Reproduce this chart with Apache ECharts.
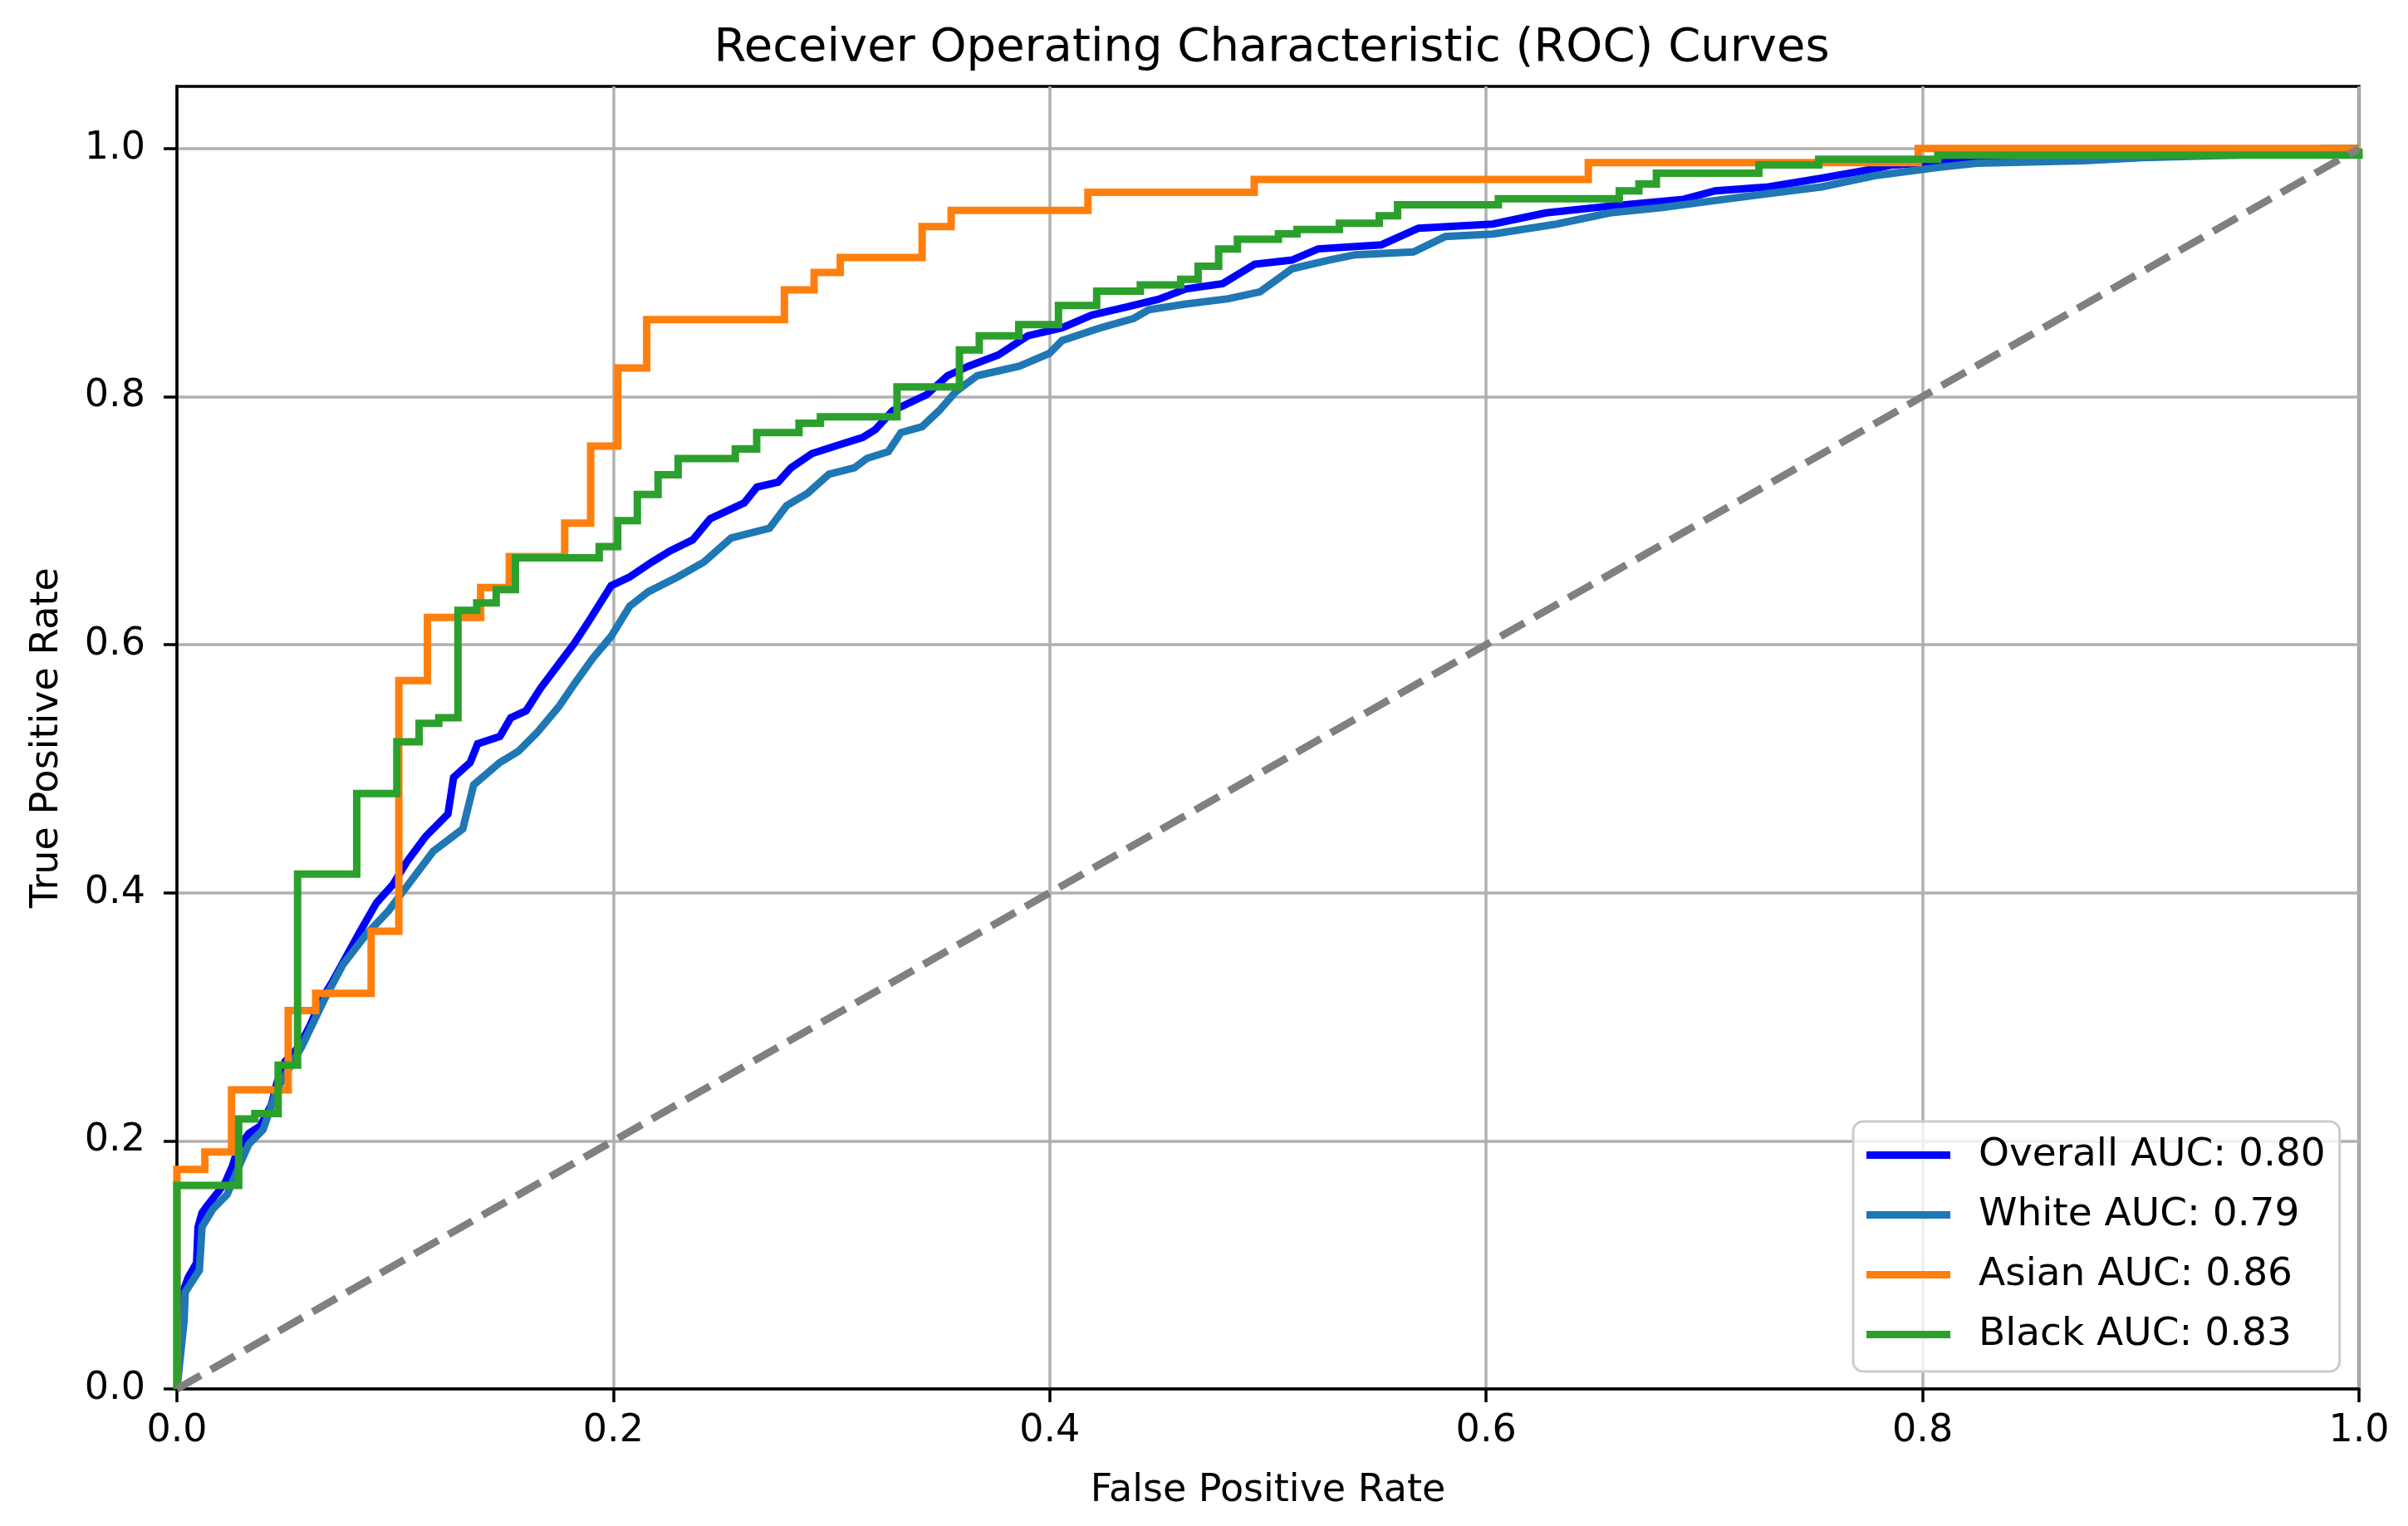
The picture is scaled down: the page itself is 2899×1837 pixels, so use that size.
<!DOCTYPE html>
<html><head><meta charset="utf-8">
<script src="https://cdn.jsdelivr.net/npm/echarts@6/dist/echarts.min.js"></script>
<style>html,body{margin:0;padding:0;background:#fff;}#c{width:2899px;height:1837px;}</style>
</head><body><div id="c"></div>
<script>
const chartTitle = 'Receiver Operating Characteristic (ROC) Curves';
const xLabel = 'False Positive Rate';
const yLabel = 'True Positive Rate';
const xTicks = [0, 0.2, 0.4, 0.6, 0.8, 1.0];
const yTicks = [0, 0.2, 0.4, 0.6, 0.8, 1.0];
const seriesNames = ['Overall AUC: 0.80', 'White AUC: 0.79', 'Asian AUC: 0.86', 'Black AUC: 0.83'];

const overallFpr = [0,0.0027,0.0052,0.009,0.0097,0.0115,0.014,0.0192,0.0223,0.0255,0.028,0.033,0.0382,0.0433,0.0458,0.0496,0.056,0.061,0.0661,0.0712,0.0775,0.0839,0.0915,0.099,0.1054,0.114,0.1242,0.1268,0.1344,0.1378,0.148,0.153,0.160,0.1667,0.1769,0.182,0.1888,0.199,0.2075,0.2177,0.226,0.2364,0.2444,0.260,0.2658,0.2755,0.2814,0.291,0.3026,0.3143,0.320,0.328,0.3435,0.3532,0.3629,0.3765,0.390,0.4056,0.4192,0.4347,0.450,0.4623,0.4793,0.4939,0.511,0.523,0.552,0.569,0.603,0.6274,0.6566,0.6905,0.705,0.7294,0.7537,0.778,0.786,0.80,0.85,0.92,0.97,1.0];
const overallTpr = [0,0.078,0.090,0.1017,0.1306,0.142,0.148,0.1595,0.167,0.180,0.194,0.206,0.212,0.229,0.2466,0.264,0.276,0.293,0.3134,0.328,0.3483,0.3686,0.392,0.4066,0.425,0.4454,0.4635,0.493,0.505,0.520,0.526,0.541,0.5467,0.565,0.5888,0.6007,0.619,0.6475,0.6546,0.6666,0.6755,0.6845,0.7015,0.7143,0.727,0.731,0.7425,0.754,0.7606,0.767,0.7732,0.7886,0.8014,0.8168,0.8245,0.8335,0.849,0.8553,0.8656,0.872,0.8785,0.8867,0.891,0.9066,0.910,0.919,0.9223,0.9357,0.939,0.948,0.9535,0.959,0.9658,0.969,0.976,0.9836,0.9866,0.988,0.991,0.995,0.998,1.0];

const whiteFpr = [0,0.0033,0.0038,0.0103,0.0115,0.0166,0.023,0.0293,0.033,0.0395,0.0458,0.0572,0.0674,0.0762,0.0864,0.097,0.1072,0.1174,0.131,0.136,0.148,0.1565,0.165,0.175,0.182,0.1905,0.199,0.2075,0.216,0.2295,0.2415,0.254,0.2716,0.2794,0.289,0.2988,0.3105,0.3163,0.326,0.3318,0.3415,0.3493,0.357,0.3668,0.3862,0.3998,0.4056,0.4231,0.4385,0.4454,0.4623,0.4818,0.4963,0.511,0.528,0.540,0.5667,0.5813,0.603,0.6323,0.6566,0.6808,0.705,0.7294,0.7537,0.778,0.8077,0.825,0.8736,0.901,0.95,0.984,1.0];
const whiteTpr = [0,0.055,0.078,0.0958,0.1306,0.1453,0.1567,0.183,0.1975,0.209,0.241,0.276,0.3134,0.3424,0.3657,0.3855,0.4094,0.4333,0.4514,0.487,0.505,0.514,0.529,0.550,0.568,0.5888,0.6067,0.631,0.6426,0.6546,0.6666,0.686,0.6939,0.712,0.722,0.7374,0.7425,0.7502,0.7555,0.7709,0.7757,0.7886,0.804,0.8168,0.8245,0.8348,0.8451,0.8553,0.863,0.870,0.8745,0.8788,0.8844,0.903,0.910,0.9143,0.9165,0.929,0.931,0.939,0.948,0.9524,0.958,0.9636,0.969,0.978,0.9848,0.988,0.990,0.9926,0.995,1.0,1.0];

const asianFpr = [0,0,0.0128,0.0128,0.025,0.025,0.051,0.051,0.0636,0.0636,0.089,0.089,0.1017,0.1017,0.1148,0.1148,0.1392,0.1392,0.1523,0.1523,0.1777,0.1777,0.1896,0.1896,0.202,0.202,0.2153,0.2153,0.2784,0.2784,0.292,0.292,0.304,0.304,0.3415,0.3415,0.3548,0.3548,0.4175,0.4175,0.4937,0.4937,0.6468,0.6468,0.798,0.798,1.0];
const asianTpr = [0,0.177,0.177,0.191,0.191,0.241,0.241,0.305,0.305,0.319,0.319,0.369,0.369,0.571,0.571,0.622,0.622,0.646,0.646,0.671,0.671,0.698,0.698,0.760,0.760,0.823,0.823,0.862,0.862,0.886,0.886,0.900,0.900,0.912,0.912,0.937,0.937,0.950,0.950,0.9647,0.9647,0.975,0.975,0.9886,0.9886,1.0,1.0];

const blackFpr = [0,0,0.0283,0.0283,0.0357,0.0357,0.0464,0.0464,0.0553,0.0553,0.0824,0.0824,0.1008,0.1008,0.111,0.111,0.120,0.120,0.1288,0.1288,0.1374,0.1374,0.1463,0.1463,0.1551,0.1551,0.1935,0.1935,0.202,0.202,0.211,0.211,0.2205,0.2205,0.2297,0.2297,0.2559,0.2559,0.2657,0.2657,0.2851,0.2851,0.2949,0.2949,0.330,0.330,0.3586,0.3586,0.3677,0.3677,0.3858,0.3858,0.404,0.404,0.4215,0.4215,0.4415,0.4415,0.46,0.46,0.468,0.468,0.4774,0.4774,0.486,0.486,0.5048,0.5048,0.5133,0.5133,0.5327,0.5327,0.551,0.551,0.5594,0.5594,0.6056,0.6056,0.661,0.661,0.670,0.670,0.678,0.678,0.725,0.725,0.7524,0.7524,0.807,0.807,1.0,1.0];
const blackTpr = [0,0.164,0.164,0.2177,0.2177,0.222,0.222,0.261,0.261,0.415,0.415,0.480,0.480,0.5216,0.5216,0.5365,0.5365,0.541,0.541,0.6277,0.6277,0.6336,0.6336,0.6443,0.6443,0.670,0.670,0.679,0.679,0.700,0.700,0.721,0.721,0.737,0.737,0.750,0.750,0.7577,0.7577,0.771,0.771,0.7785,0.7785,0.7837,0.7837,0.8078,0.8078,0.8375,0.8375,0.849,0.849,0.858,0.858,0.8734,0.8734,0.885,0.885,0.890,0.890,0.8944,0.8944,0.905,0.905,0.919,0.919,0.9268,0.9268,0.9312,0.9312,0.9346,0.9346,0.9397,0.9397,0.9457,0.9457,0.9546,0.9546,0.9595,0.9595,0.9658,0.9658,0.9714,0.9714,0.980,0.980,0.9868,0.9868,0.9913,0.9913,0.9946,0.9946,1.0];

const chanceFpr = [0, 1];
const chanceTpr = [0, 1];

function zip(a, b) { return a.map((v, i) => [v, b[i]]); }

const FONT = 'DejaVu Sans';
const colors = ['#0000ff', '#1f77b4', '#ff7f0e', '#2ca02c'];
const curves = [[overallFpr, overallTpr], [whiteFpr, whiteTpr], [asianFpr, asianTpr], [blackFpr, blackTpr]];

const series = curves.map((c, i) => ({
  name: seriesNames[i], type: 'line', data: zip(c[0], c[1]),
  color: colors[i], showSymbol: false, symbol: 'none', clip: true,
  lineStyle: { width: 9, color: colors[i], join: 'miter', cap: 'butt' },
  emphasis: { disabled: true }
}));
series.push({
  name: 'chance', type: 'line', data: zip(chanceFpr, chanceTpr),
  color: '#808080', showSymbol: false, symbol: 'none',
  lineStyle: { width: 9, color: '#808080', type: [33, 14] },
  emphasis: { disabled: true }
});

const chart = echarts.init(document.getElementById('c'), null, { renderer: 'canvas' });
chart.setOption({
  animation: false,
  backgroundColor: '#ffffff',
  title: {
    text: chartTitle, left: 1526, top: 25, textAlign: 'center',
    textStyle: { fontSize: 56, fontWeight: 'normal', color: '#000', fontFamily: FONT }
  },
  grid: { left: 213, right: 59, top: 104, bottom: 165, show: true, borderColor: '#000', borderWidth: 3.5, backgroundColor: 'transparent' },
  legend: {
    orient: 'vertical', left: 2231, top: 1350, data: seriesNames, icon: 'rect',
    itemWidth: 101, itemHeight: 9, itemGap: 25, selectedMode: false,
    padding: [17, 17, 21, 16], backgroundColor: 'rgba(255,255,255,0.8)',
    borderColor: '#cccccc', borderWidth: 3, borderRadius: 12,
    formatter: name => '{t|' + name + '}',
    textStyle: {
      fontSize: 47, color: '#000', fontFamily: FONT,
      rich: { t: { fontSize: 47, color: '#000', fontFamily: FONT, padding: [0, 0, 0, 29] } }
    }
  },
  xAxis: {
    type: 'value', min: 0, max: 1, interval: 0.2,
    name: xLabel, nameLocation: 'middle', nameGap: 100,
    nameTextStyle: { fontSize: 46, color: '#000', fontFamily: FONT },
    axisLine: { show: true, onZero: false, lineStyle: { color: '#000', width: 3.5 } },
    axisTick: { show: true, length: 16, lineStyle: { color: '#000', width: 3.5 } },
    axisLabel: { fontSize: 46, color: '#000', fontFamily: FONT, margin: 28, formatter: v => v.toFixed(1) },
    splitLine: { show: true, lineStyle: { color: '#b0b0b0', width: 3.5 } }
  },
  yAxis: {
    type: 'value', min: 0, max: 1.05, interval: 0.2,
    name: yLabel, nameLocation: 'middle', nameGap: 133,
    nameTextStyle: { fontSize: 46, color: '#000', fontFamily: FONT },
    axisLine: { show: true, onZero: false, lineStyle: { color: '#000', width: 3.5 } },
    axisTick: { show: true, length: 16, customValues: yTicks, lineStyle: { color: '#000', width: 3.5 } },
    axisLabel: { fontSize: 46, color: '#000', fontFamily: FONT, margin: 38, customValues: yTicks, formatter: v => v.toFixed(1) },
    splitLine: { show: true, lineStyle: { color: '#b0b0b0', width: 3.5 } }
  },
  series: series
});
</script></body></html>
